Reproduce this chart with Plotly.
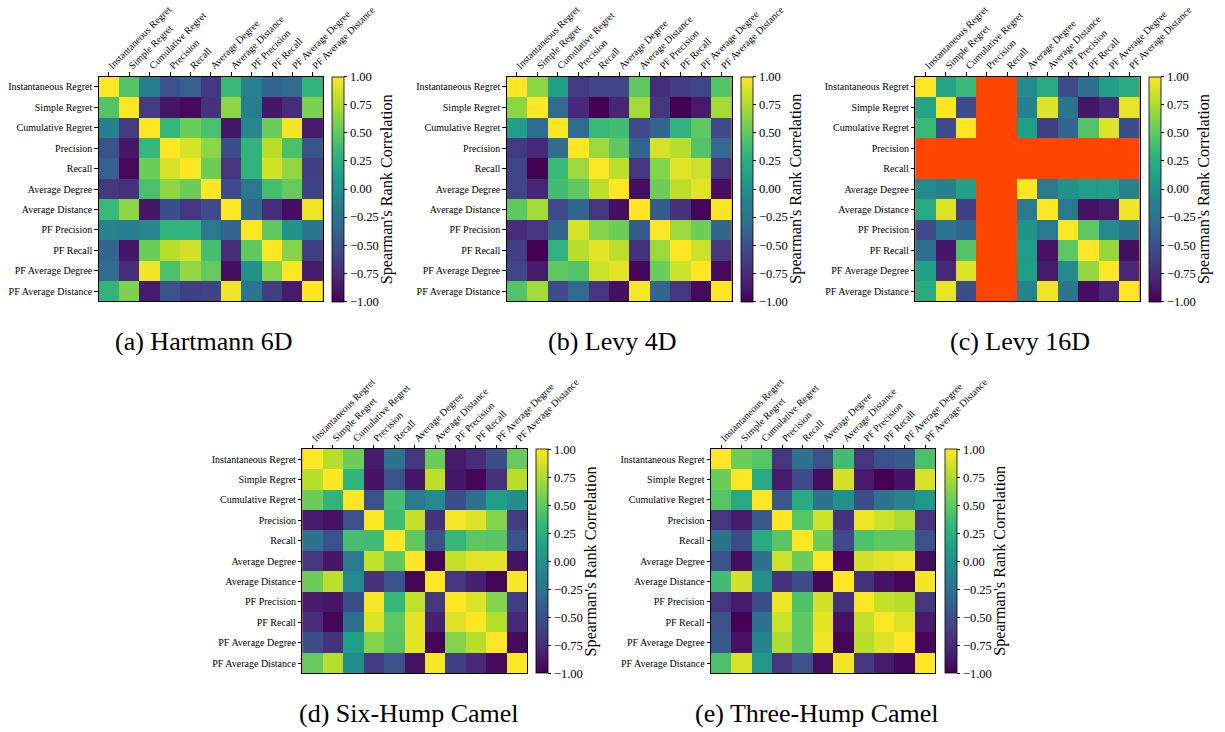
import plotly.graph_objects as go

labels = ["Instantaneous Regret", "Simple Regret", "Cumulative Regret", "Precision", "Recall",
          "Average Degree", "Average Distance", "PF Precision", "PF Recall",
          "PF Average Degree", "PF Average Distance"]

hartmann_6d = [
    [1, .45, -.12, -.5, -.38, -.68, .35, -.1, -.35, -.3, .3],
    [.45, 1, -.65, -.88, -.95, -.72, .65, -.15, -.88, -.75, .6],
    [-.12, -.65, 1, .33, .55, .42, -.88, -.08, .55, .97, -.85],
    [-.5, -.88, .33, 1, .88, .65, -.52, .3, .78, .42, -.48],
    [-.38, -.95, .55, .88, 1, .55, -.7, .3, .87, .67, -.62],
    [-.68, -.72, .42, .65, .55, 1, -.55, -.2, .4, .52, -.6],
    [.35, .65, -.88, -.52, -.7, -.55, 1, -.35, -.75, -.92, .95],
    [-.1, -.15, -.08, .3, .3, -.2, -.35, 1, .5, .02, -.22],
    [-.35, -.88, .55, .78, .87, .4, -.75, .5, 1, .62, -.62],
    [-.3, -.75, .97, .42, .67, .52, -.92, .02, .62, 1, -.85],
    [.3, .6, -.85, -.48, -.62, -.6, .95, -.22, -.62, -.85, 1],
]
levy_4d = [
    [1, .65, .12, -.65, -.58, -.58, .5, -.75, -.62, -.58, .45],
    [.65, 1, -.32, -.78, -1, -.8, .72, -.68, -1, -.85, .72],
    [.12, -.32, 1, -.3, .35, .38, -.55, -.35, .28, .5, -.55],
    [-.65, -.78, -.3, 1, .7, .5, -.35, .88, .78, .45, -.32],
    [-.58, -1, .35, .7, 1, .8, -.7, .62, .92, .85, -.7],
    [-.58, -.8, .38, .5, .8, 1, -.92, .55, .8, .92, -.92],
    [.5, .72, -.55, -.35, -.7, -.92, 1, -.42, -.72, -.97, .98],
    [-.75, -.68, -.35, .88, .62, .55, -.42, 1, .7, .55, -.35],
    [-.62, -1, .28, .78, .92, .8, -.72, .7, 1, .85, -.68],
    [-.58, -.85, .5, .45, .85, .92, -.97, .55, .85, 1, -.95],
    [.45, .72, -.55, -.32, -.7, -.92, .98, -.35, -.68, -.95, 1],
]
_ = None
levy_16d = [
    [1, .17, .35, _, _, -.05, .2, -.55, -.28, .13, .22],
    [.17, 1, -.55, _, _, -.12, .9, -.22, -.88, -.78, .93],
    [.35, -.55, 1, _, _, .13, -.62, -.35, .45, .9, -.52],
    [_, _, _, _, _, _, _, _, _, _, _],
    [_, _, _, _, _, _, _, _, _, _, _],
    [-.05, -.12, .13, _, _, 1, -.18, .02, .1, .13, -.1],
    [.2, .9, -.62, _, _, -.18, 1, -.2, -.9, -.85, .95],
    [-.55, -.22, -.35, _, _, .02, -.2, 1, .48, -.05, -.22],
    [-.28, -.88, .45, _, _, .1, -.9, .48, 1, .68, -.92],
    [.13, -.78, .9, _, _, .13, -.85, -.05, .68, 1, -.78],
    [.22, .93, -.52, _, _, -.1, .95, -.22, -.92, -.78, 1],
]
six_hump = [
    [1, .78, .55, -.85, -.25, -.68, .55, -.85, -.75, -.52, .52],
    [.78, 1, .3, -.9, -.5, -.88, .8, -.88, -.97, -.72, .78],
    [.55, .3, 1, -.5, .4, -.2, -.05, -.52, -.28, .12, -.02],
    [-.85, -.9, -.5, 1, .38, .82, -.72, .98, .9, .62, -.65],
    [-.25, -.5, .4, .38, 1, .5, -.5, .33, .48, .47, -.48],
    [-.68, -.88, -.2, .82, .5, 1, -.98, .82, .92, .92, -.9],
    [.55, .8, -.05, -.72, -.5, -.98, 1, -.68, -.82, -.98, .98],
    [-.85, -.88, -.52, .98, .33, .82, -.68, 1, .9, .62, -.62],
    [-.75, -.97, -.28, .9, .48, .92, -.82, .9, 1, .78, -.78],
    [-.52, -.72, .12, .62, .47, .92, -.98, .62, .78, 1, -.95],
    [.52, .78, -.02, -.65, -.48, -.9, .98, -.62, -.78, -.95, 1],
]
three_hump = [
    [1, .55, .47, -.7, -.25, -.5, .38, -.7, -.5, -.42, .42],
    [.55, 1, .2, -.85, -.55, -.93, .87, -.85, -1, -.9, .88],
    [.47, .2, 1, -.45, .22, -.25, 0, -.52, -.25, -.1, .05],
    [-.7, -.85, -.45, 1, .47, .85, -.72, .95, .85, .75, -.7],
    [-.25, -.55, .22, .47, 1, .55, -.55, .43, .5, .5, -.5],
    [-.5, -.93, -.25, .85, .55, 1, -.97, .87, .92, .95, -.93],
    [.38, .87, 0, -.72, -.55, -.97, 1, -.72, -.9, -.98, .97],
    [-.7, -.85, -.52, .95, .43, .87, -.72, 1, .82, .78, -.68],
    [-.5, -1, -.25, .85, .5, .92, -.9, .82, 1, .9, -.85],
    [-.42, -.9, -.1, .75, .5, .95, -.98, .78, .9, 1, -.97],
    [.42, .88, .05, -.7, -.5, -.93, .97, -.68, -.85, -.97, 1],
]

captions = ["(a) Hartmann 6D", "(b) Levy 4D", "(c) Levy 16D", "(d) Six-Hump Camel", "(e) Three-Hump Camel"]
matrices = [hartmann_6d, levy_4d, levy_16d, six_hump, three_hump]
colorbar_title = "Spearman's Rank Correlation"

W, H = 1225, 732
FONT = "Liberation Serif"
# pixel boxes: x0, x1, y0, y1, colorbar x0, caption centre x, caption centre y
boxes = [
    (98.7, 323, 76.6, 301.4, 332.3, 203.5, 341.5),
    (506.7, 731.7, 76.6, 301.4, 740.7, 612.5, 341.5),
    (915.3, 1139.7, 76.6, 301.4, 1149, 1020, 341.5),
    (302.3, 527, 449, 673.3, 536.3, 408.5, 713),
    (711, 935.3, 449, 673.3, 944.7, 816.5, 713),
]

fig = go.Figure()
for i, (m, cap, b) in enumerate(zip(matrices, captions, boxes)):
    x0, x1, y0, y1, cx, tx, ty = b
    n = "" if i == 0 else str(i + 1)
    fig.add_trace(go.Heatmap(
        z=m, x=labels, y=labels, xaxis="x" + n, yaxis="y" + n,
        colorscale="Viridis", zmin=-1, zmax=1, hoverongaps=False,
        colorbar=dict(
            x=cx / W, xanchor="left", xpad=0, y=1 - (y0 + y1) / 2 / H, yanchor="middle", ypad=0,
            thickness=11.5, thicknessmode="pixels", len=y1 - y0, lenmode="pixels",
            outlinewidth=0.8, outlinecolor="black",
            tickmode="linear", tick0=-1, dtick=0.25, tickformat=".2f",
            ticks="outside", ticklen=3.5, tickwidth=0.8, tickcolor="black",
            tickfont=dict(family=FONT, size=12.5, color="black"),
        ),
    ))
    common = dict(showline=True, mirror=True, linecolor="black", linewidth=0.8, showgrid=False,
                  zeroline=False, ticks="outside", ticklen=3.5, tickwidth=0.8, tickcolor="black",
                  tickfont=dict(family=FONT, size=10, color="black"), type="category",
                  categoryorder="array", categoryarray=labels, automargin=False)
    fig.layout["xaxis" + n] = dict(common, domain=[x0 / W, x1 / W], anchor="y" + n, side="top",
                                   tickangle=-45, ticklabelstandoff=-3)
    fig.layout["yaxis" + n] = dict(common, domain=[1 - y1 / H, 1 - y0 / H], anchor="x" + n,
                                   autorange="reversed")
    fig.add_annotation(text=cap, x=tx / W, y=1 - ty / H, xref="paper", yref="paper",
                       xanchor="center", yanchor="middle", showarrow=False,
                       font=dict(family=FONT, size=26, color="black"))
    fig.add_annotation(text=colorbar_title, x=(cx + 55) / W, y=1 - (y0 + y1) / 2 / H,
                       xref="paper", yref="paper", xanchor="center", yanchor="middle",
                       textangle=-90, showarrow=False,
                       font=dict(family=FONT, size=16.2, color="black"))

fig.update_layout(width=W, height=H, margin=dict(l=0, r=0, t=0, b=0),
                  paper_bgcolor="white", plot_bgcolor="#ff4500", showlegend=False)
fig.write_html("out.html", config={"displayModeBar": False},
               post_script="document.body.style.margin='0';document.body.style.overflow='hidden';")
